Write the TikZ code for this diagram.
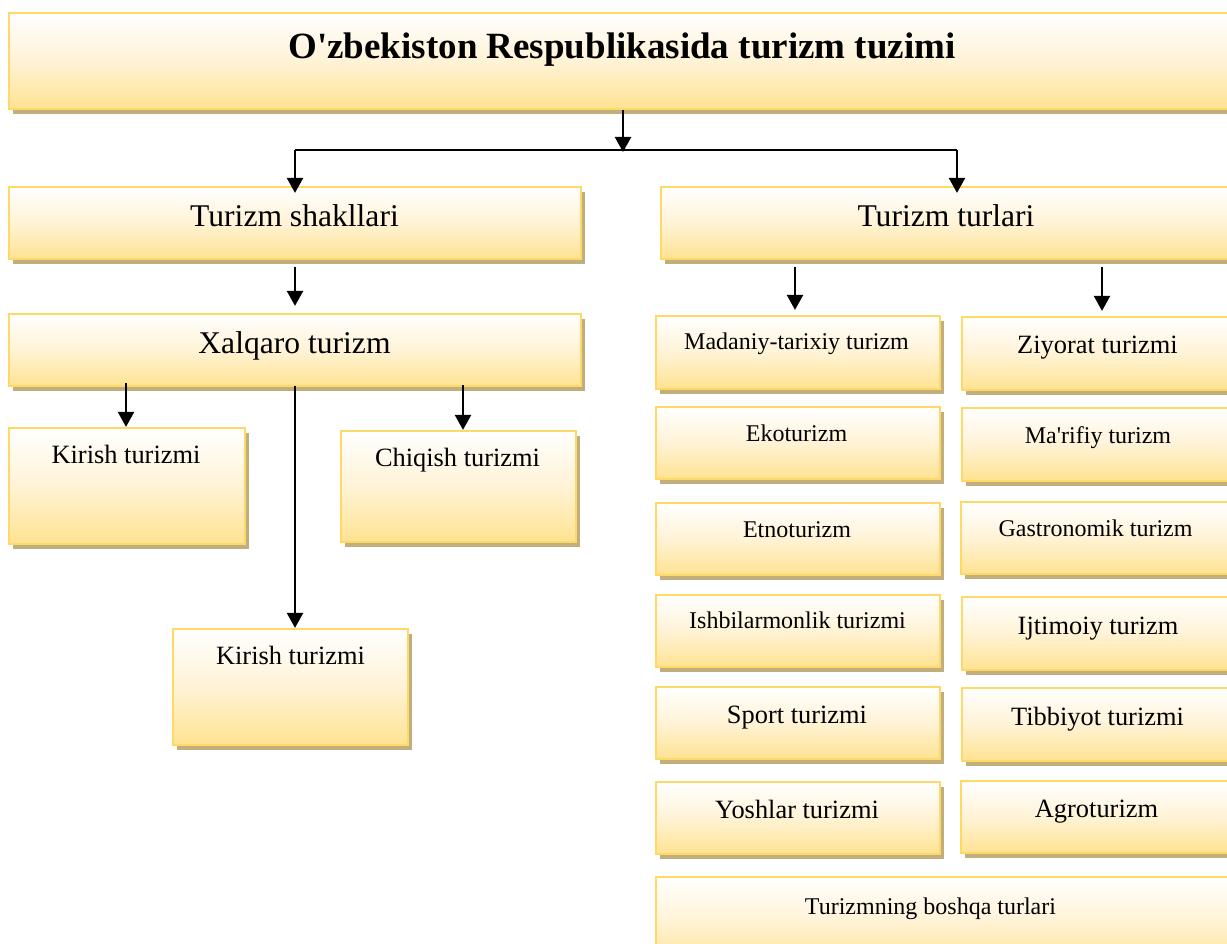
\documentclass[tikz,border=0pt]{standalone}
\usepackage{fontspec}
\setmainfont{Liberation Serif}
\usetikzlibrary{arrows.meta,shadows,calc}

\definecolor{boxline}{RGB}{255,217,102}
\definecolor{boxlow}{RGB}{255,226,145}
\definecolor{boxmid}{RGB}{255,243,214}
\definecolor{shadowtan}{RGB}{192,174,124}

\tikzset{
  box/.style={rectangle, draw=boxline, line width=2.2pt, inner sep=0pt,
    top color=white, bottom color=boxlow, middle color=boxmid,
    drop shadow={shadow xshift=3.5pt, shadow yshift=-5pt, fill=shadowtan, opacity=1}},
  arr/.style={line width=2.3pt, -{Triangle[length=15pt,width=16pt]}},
  link/.style={line width=2.3pt},
  ftitle/.style={font=\fontsize{37}{40}\selectfont\bfseries},
  fbig/.style={font=\fontsize{31.6}{34}\selectfont},
  fmed/.style={font=\fontsize{26.4}{29}\selectfont},
  fsmall/.style={font=\fontsize{24}{26}\selectfont},
}

% \tbox{name}{x1}{y1}{x2}{y2}{text x}{baseline y}{font style}{text}
\newcommand\tbox[9]{%
  \node[box, minimum width={(#4-#2)*1pt}, minimum height={(#5-#3)*1pt}]
    (#1) at ({(#2+#4)/2},{(#3+#5)/2}) {};
  \node[#8, anchor=base, inner sep=0pt] (#1-t) at (#6,#7) {#9};
}

\begin{document}
\begin{tikzpicture}[x=1pt,y=-1pt]
\useasboundingbox (0,0) rectangle (1227,944);
\clip (0,0) rectangle (1227,944);

% top level
\tbox{title}{9}{13}{1240}{109}{622}{59}{ftitle}{O\textquotesingle zbekiston Respublikasida turizm tuzimi}

% forms and types
\tbox{shakl}{9}{187}{581}{259}{294.5}{227}{fbig}{Turizm shakllari}
\tbox{turlar}{661}{187}{1240}{259}{946}{227}{fbig}{Turizm turlari}

% forms branch
\tbox{xalq}{9}{314}{581}{386}{294.5}{353}{fbig}{Xalqaro turizm}
\tbox{kir}{9}{428}{245}{544}{126}{463}{fmed}{Kirish turizmi}
\tbox{chiq}{341}{431}{576}{542}{457.5}{466}{fmed}{Chiqish turizmi}
\tbox{kirb}{173}{629}{408}{745}{290.5}{664}{fmed}{Kirish turizmi}

% types, left column
\tbox{madan}{656}{316}{940}{389}{796.5}{349}{fsmall}{Madaniy-tarixiy turizm}
\tbox{eko}{656}{407}{940}{479}{796.5}{441}{fsmall}{Ekoturizm}
\tbox{etno}{656}{503}{940}{575}{797}{537}{fsmall}{Etnoturizm}
\tbox{ishb}{656}{595}{940}{667}{797.5}{628}{fsmall}{Ishbilarmonlik turizmi}
\tbox{sport}{656}{687}{940}{759}{797}{723}{fmed}{Sport turizmi}
\tbox{yosh}{656}{782}{940}{854}{797}{818}{fmed}{Yoshlar turizmi}

% types, right column
\tbox{ziyor}{962}{317}{1240}{390}{1097.5}{353}{fmed}{Ziyorat turizmi}
\tbox{marif}{962}{408}{1240}{481}{1098}{443}{fsmall}{Ma\textquotesingle rifiy turizm}
\tbox{gastr}{961}{502}{1240}{574}{1095.5}{536}{fsmall}{Gastronomik turizm}
\tbox{ijtim}{962}{597}{1240}{670}{1098}{634}{fmed}{Ijtimoiy turizm}
\tbox{tibb}{962}{688}{1240}{761}{1097.5}{725}{fmed}{Tibbiyot turizmi}
\tbox{agro}{961}{781}{1240}{853}{1096.5}{817}{fmed}{Agroturizm}

\tbox{boshqa}{656}{877}{1240}{965}{930.5}{914}{fsmall}{Turizmning boshqa turlari}

% connectors
\coordinate (jc) at (623,150);
\coordinate (jl) at (295,150);
\coordinate (jr) at (957,150);
\draw[arr] (title.south -| jc) -- ([yshift=-2pt]jc);
\draw[link] (jl) -- (jr);
\draw[arr] (jl) -- ([yshift=-7pt]jl |- shakl.north);
\draw[arr] (jr) -- ([yshift=-7pt]jr |- turlar.north);

\draw[arr] ([yshift=-7pt]shakl.south) -- ([yshift=7pt]xalq.north);

\coordinate (ta) at (795,267);
\coordinate (tb) at (1102,267);
\draw[arr] (ta) -- ([yshift=5pt]ta |- madan.north);
\draw[arr] (tb) -- ([yshift=5pt]tb |- ziyor.north);

\coordinate (xa) at (126,383);
\coordinate (xb) at (295,386);
\coordinate (xc) at (463,385);
\draw[arr] (xa) -- (xa |- kir.north);
\draw[arr] (xb) -- (xb |- kirb.north);
\draw[arr] (xc) -- (xc |- chiq.north);
\end{tikzpicture}
\end{document}
